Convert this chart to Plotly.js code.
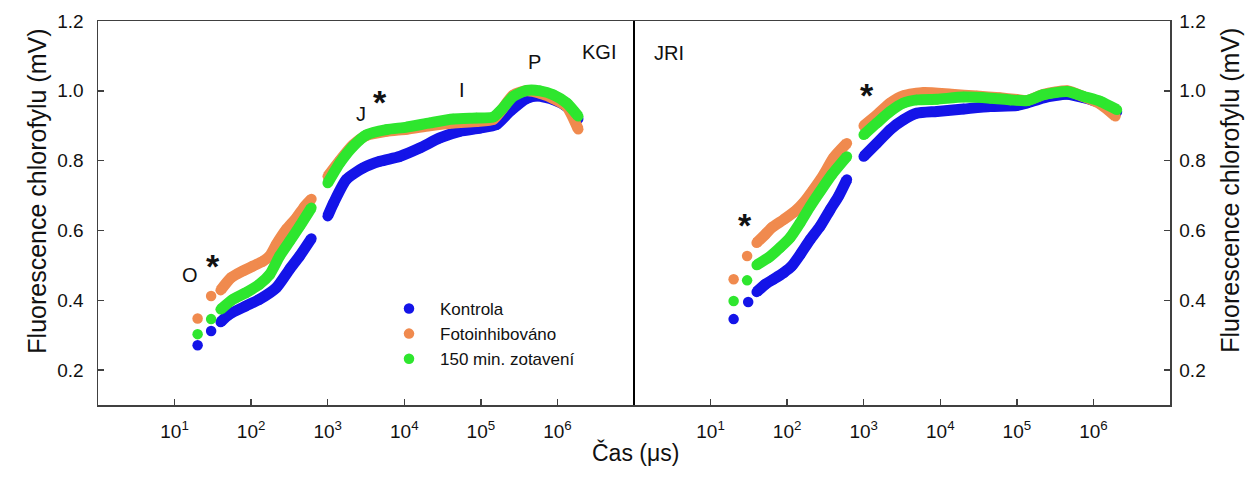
<!DOCTYPE html>
<html>
<head>
<meta charset="utf-8">
<script src="https://cdn.plot.ly/plotly-3.0.1.min.js"></script>
<style>html,body{margin:0;padding:0;background:#fff;}#chart{width:1260px;height:484px;}</style>
</head>
<body>
<div id="chart"></div>
<script>
// ---- data (time in µs, fluorescence in mV); null = gap between measurement blocks ----
const seriesNames = ["Kontrola", "Fotoinhibováno", "150 min. zotavení"];
const seriesColors = ["#1414e8", "#f08a4e", "#2ee62e"];
const xTickVals = [10, 100, 1000, 10000, 100000, 1000000];
const xTickText = ["10<sup>1</sup>", "10<sup>2</sup>", "10<sup>3</sup>", "10<sup>4</sup>", "10<sup>5</sup>", "10<sup>6</sup>"];
const yTickVals = [0.2, 0.4, 0.6, 0.8, 1.0, 1.2];

// KGI panel
const kgiKontrolaT = [20, 30, 40, 52, 86, 129, 213, 318, 430, 612, 800, 1000, 1200, 1750, 2900, 4800, 8700, 15900, 29100, 53100, 97000, 159000, 240000, 396000, 550000, 880000, 1320000, 1870000];
const kgiKontrolaV = [0.271, 0.312, 0.338, 0.360, 0.384, 0.403, 0.436, 0.489, 0.527, 0.577, null, 0.641, 0.680, 0.746, 0.779, 0.798, 0.812, 0.836, 0.865, 0.884, 0.893, 0.903, 0.941, 0.978, 0.985, 0.975, 0.955, 0.920];
const kgiFotoT = [20, 30, 40, 55, 78, 106, 143, 175, 213, 288, 390, 500, 613, 800, 1000, 1435, 2144, 3204, 5850, 10700, 21500, 43400, 87900, 145000, 186000, 265000, 396000, 590000, 880000, 1320000, 1870000];
const kgiFotoV = [0.348, 0.412, 0.429, 0.465, 0.484, 0.498, 0.512, 0.527, 0.560, 0.603, 0.636, 0.669, 0.690, null, 0.755, 0.800, 0.845, 0.872, 0.884, 0.890, 0.900, 0.908, 0.912, 0.918, 0.945, 0.988, 1.000, 0.993, 0.978, 0.955, 0.890];
const kgiZotT = [20, 30, 40, 58, 86, 129, 175, 236, 318, 430, 612, 800, 1000, 1435, 2144, 3204, 5850, 10700, 21500, 43400, 87900, 145000, 186000, 265000, 396000, 590000, 880000, 1320000, 1870000];
const kgiZotV = [0.303, 0.346, 0.374, 0.403, 0.422, 0.446, 0.474, 0.527, 0.569, 0.612, 0.665, null, 0.736, 0.793, 0.841, 0.874, 0.889, 0.896, 0.908, 0.919, 0.922, 0.925, 0.946, 0.984, 1.001, 1.000, 0.989, 0.965, 0.927];

// JRI panel
const jriKontrolaT = [20, 31, 40, 52, 66, 90, 115, 148, 200, 270, 365, 469, 603, 800, 1000, 1487, 2220, 3310, 4950, 9050, 20200, 45000, 100000, 136000, 224000, 453000, 747000, 1230000, 2030000];
const jriKontrolaV = [0.346, 0.395, 0.424, 0.446, 0.460, 0.479, 0.498, 0.531, 0.574, 0.612, 0.660, 0.698, 0.746, null, 0.812, 0.850, 0.889, 0.917, 0.936, 0.941, 0.948, 0.955, 0.958, 0.965, 0.980, 0.990, 0.980, 0.965, 0.940];
const jriFotoT = [20, 30, 40, 52, 63, 90, 127, 163, 220, 300, 403, 603, 800, 1000, 1487, 2220, 3310, 6040, 14000, 30000, 60000, 100000, 136000, 224000, 453000, 747000, 1230000, 1940000];
const jriFotoV = [0.460, 0.527, 0.565, 0.589, 0.608, 0.631, 0.655, 0.679, 0.717, 0.760, 0.808, 0.850, null, 0.900, 0.931, 0.965, 0.986, 0.995, 0.990, 0.985, 0.980, 0.975, 0.972, 0.990, 1.000, 0.983, 0.962, 0.927];
const jriZotT = [20, 30, 40, 57, 81, 109, 148, 200, 270, 383, 603, 800, 1000, 1487, 2220, 3310, 4950, 9050, 20200, 45000, 82300, 136000, 224000, 453000, 747000, 1230000, 2030000];
const jriZotV = [0.398, 0.457, 0.501, 0.522, 0.551, 0.579, 0.622, 0.669, 0.712, 0.760, 0.812, null, 0.874, 0.908, 0.941, 0.965, 0.974, 0.976, 0.982, 0.979, 0.974, 0.972, 0.989, 0.998, 0.984, 0.970, 0.946];

// annotation labels (position as log10(time) and value)
const labelTexts = ["O", "*", "J", "*", "I", "P", "KGI", "JRI", "*", "*"];
const labelLogT = [1.196, 1.50, 3.44, 3.68, 4.76, 5.706, 6.54, 0.457, 1.451, 3.042];
const labelVals = [0.472, 0.497, 0.934, 0.968, 1.002, 1.083, 1.111, 1.109, 0.617, 0.989];
const labelPanel = [1, 1, 1, 1, 1, 1, 1, 2, 2, 2];

const FONT = "Liberation Sans, Arial, Helvetica, sans-serif";
const panels = [
  {xa: "x", ya: "y", sets: [[kgiKontrolaT, kgiKontrolaV], [kgiFotoT, kgiFotoV], [kgiZotT, kgiZotV]]},
  {xa: "x2", ya: "y2", sets: [[jriKontrolaT, jriKontrolaV], [jriFotoT, jriFotoV], [jriZotT, jriZotV]]}
];

const traces = [];
for (let s = 0; s < 3; s++) {
  panels.forEach((p, pi) => {
    const [t, v] = p.sets[s];
    traces.push({
      x: t.slice(2), y: v.slice(2), xaxis: p.xa, yaxis: p.ya,
      type: "scatter", mode: "lines", connectgaps: false,
      line: {color: seriesColors[s], width: 11, shape: "spline", smoothing: 0.6},
      showlegend: false, hoverinfo: "skip"
    });
    traces.push({
      x: t, y: v, xaxis: p.xa, yaxis: p.ya,
      type: "scatter", mode: "markers",
      marker: {color: seriesColors[s], size: 10.5},
      name: seriesNames[s], showlegend: pi === 0
    });
  });
}

const axisLine = "#404040";
function xAxis(domain, anchor) {
  return {
    type: "log", range: [0, 7], domain: domain, anchor: anchor,
    tickmode: "array", tickvals: xTickVals, ticktext: xTickText,
    ticks: "inside", ticklen: 6, tickwidth: 1.5, tickcolor: axisLine,
    showline: true, linecolor: axisLine, linewidth: 1.5, mirror: true,
    showgrid: false, zeroline: false, ticklabelstandoff: 9,
    tickfont: {family: FONT, size: 19, color: "#111"}
  };
}
function yAxis(side, anchor) {
  return {
    range: [0.1, 1.2], anchor: anchor, side: side,
    tickmode: "array", tickvals: yTickVals, tickformat: ".1f",
    ticks: "inside", ticklen: 6, tickwidth: 1.5, tickcolor: axisLine,
    showline: true, linecolor: axisLine, linewidth: 1.5, mirror: false,
    showgrid: false, zeroline: false, ticklabelstandoff: side === "left" ? 9 : 4,
    tickfont: {family: FONT, size: 19, color: "#111"}
  };
}

const annotations = labelTexts.map((txt, i) => {
  const big = txt === "*";
  return {
    text: big ? "<b>*</b>" : txt,
    x: labelLogT[i], y: labelVals[i],
    xref: labelPanel[i] === 1 ? "x" : "x2", yref: labelPanel[i] === 1 ? "y" : "y2",
    showarrow: false, xanchor: "center", yanchor: "middle",
    font: {family: FONT, size: big ? 34 : 20, color: "#111"}
  };
});
annotations.push(
  {text: "Fluorescence chlorofylu (mV)", xref: "paper", yref: "paper", x: -0.0719, y: 0.558,
   textangle: -90, showarrow: false, font: {family: FONT, size: 25, color: "#111"}},
  {text: "Fluorescence chlorofylu (mV)", xref: "paper", yref: "paper", x: 1.0709, y: 0.558,
   textangle: -90, showarrow: false, font: {family: FONT, size: 25, color: "#111"}},
  {text: "Čas (μs)", xref: "paper", yref: "paper", x: 0.501, y: -0.164,
   showarrow: false, font: {family: FONT, size: 23, color: "#111"}}
);

const layout = {
  width: 1260, height: 484,
  margin: {l: 98, r: 90, t: 21, b: 79},
  paper_bgcolor: "#fff", plot_bgcolor: "#fff",
  font: {family: FONT, color: "#111"},
  xaxis: xAxis([0, 0.5], "y"),
  xaxis2: xAxis([0.5, 1], "y2"),
  yaxis: yAxis("left", "x"),
  yaxis2: yAxis("right", "x2"),
  showlegend: true,
  legend: {x: 0.2612, y: 0.297, xanchor: "left", yanchor: "top",
           bgcolor: "rgba(0,0,0,0)", font: {family: FONT, size: 17, color: "#111"},
           itemwidth: 52, tracegroupgap: 0},
  shapes: [{type: "line", xref: "paper", yref: "paper", x0: 0.5, x1: 0.5, y0: 0, y1: 1,
            line: {color: "#000", width: 2}}],
  annotations: annotations
};

Plotly.newPlot("chart", traces, layout, {staticPlot: true, displayModeBar: false});
</script>
</body>
</html>
